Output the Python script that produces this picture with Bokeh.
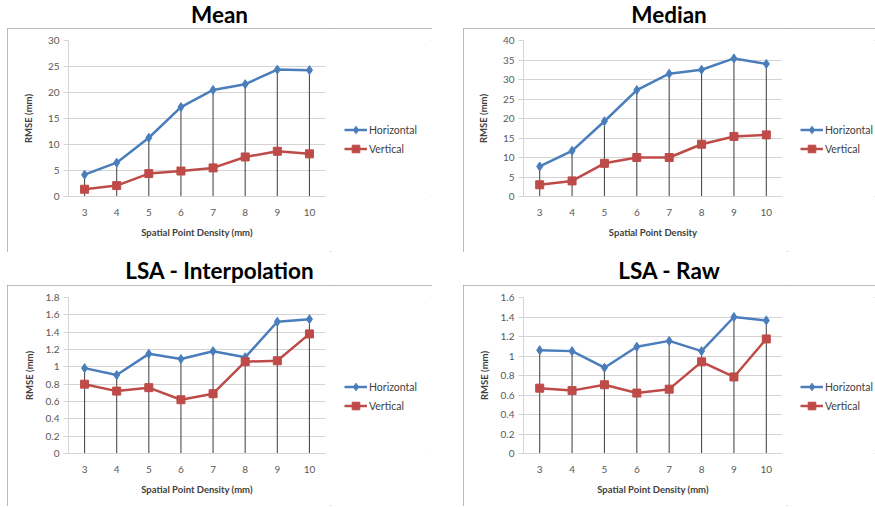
from bokeh.plotting import figure
from bokeh.models import (FactorRange, Range1d, FixedTicker, Legend, LegendItem,
                          Div, Spacer, CustomJSTickFormatter)
from bokeh.layouts import row, column
from bokeh.embed import file_html
from bokeh.resources import INLINE

categories = ["3", "4", "5", "6", "7", "8", "9", "10"]

mean_horizontal = [4.2, 6.5, 11.3, 17.2, 20.5, 21.6, 24.4, 24.3]
mean_vertical = [1.4, 2.1, 4.4, 4.9, 5.5, 7.6, 8.7, 8.2]

median_horizontal = [7.7, 11.7, 19.3, 27.3, 31.5, 32.5, 35.4, 34.0]
median_vertical = [3.0, 4.0, 8.5, 10.0, 10.0, 13.4, 15.4, 15.8]

interp_horizontal = [0.985, 0.905, 1.15, 1.09, 1.18, 1.11, 1.52, 1.55]
interp_vertical = [0.80, 0.72, 0.76, 0.62, 0.69, 1.06, 1.07, 1.38]

raw_horizontal = [1.06, 1.05, 0.88, 1.095, 1.155, 1.05, 1.40, 1.365]
raw_vertical = [0.67, 0.645, 0.705, 0.62, 0.66, 0.94, 0.785, 1.175]

mean_ticks = [0, 5, 10, 15, 20, 25, 30]
median_ticks = [0, 5, 10, 15, 20, 25, 30, 35, 40]
interp_ticks = [0, 0.2, 0.4, 0.6, 0.8, 1.0, 1.2, 1.4, 1.6, 1.8]
raw_ticks = [0, 0.2, 0.4, 0.6, 0.8, 1.0, 1.2, 1.4, 1.6]

titles = ["Mean", "Median", "LSA - Interpolation", "LSA - Raw"]
x_titles = ["Spatial Point Density (mm)", "Spatial Point Density",
            "Spatial Point Density (mm)", "Spatial Point Density (mm)"]
y_title = "RMSE (mm)"
series_names = ["Horizontal", "Vertical"]

BLUE = "#4a7ebb"
RED = "#be4b48"
GRID = "#d4d4d4"
TEXT = "#404040"
FONT = "Lato"
BOX = {"outline": "1.5px solid #a6a6a6", "outline-offset": "-1.5px"}


def make_main(horiz, vert, ticks, xtitle, width, height, mb_left, mb_bottom,
              ylab_standoff):
    p = figure(width=width, height=height, output_backend="svg",
               toolbar_location=None, x_range=FactorRange(*categories, range_padding=0),
               y_range=Range1d(ticks[0], ticks[-1]),
               min_border_left=mb_left, min_border_right=5,
               min_border_top=12, min_border_bottom=mb_bottom,
               outline_line_color=None, background_fill_color="white",
               border_fill_color="white")
    tops = [max(a, b) for a, b in zip(horiz, vert)]
    p.segment(x0=categories, y0=[0] * len(categories), x1=categories, y1=tops,
              line_color="#4d4d4d", line_width=1.1)
    p.line(categories, horiz, line_color=BLUE, line_width=2.5)
    p.scatter(categories, horiz, marker="diamond", size=9, fill_color=BLUE,
              line_color=BLUE)
    p.line(categories, vert, line_color=RED, line_width=2.5)
    p.scatter(categories, vert, marker="square", size=8, fill_color=RED,
              line_color=RED)

    p.xgrid.grid_line_color = None
    p.ygrid.grid_line_color = GRID
    p.yaxis.ticker = FixedTicker(ticks=ticks)
    p.yaxis.formatter = CustomJSTickFormatter(
        code="return String(Math.round(tick*10)/10);")
    for ax in (p.xaxis[0], p.yaxis[0]):
        ax.axis_line_color = GRID
        ax.major_label_text_font = FONT
        ax.major_label_text_font_size = "10px"
        ax.major_label_text_color = "#595959"
        ax.axis_label_text_font = FONT
        ax.axis_label_text_font_size = "9.5px"
        ax.axis_label_text_font_style = "bold"
        ax.axis_label_text_color = TEXT
        ax.minor_tick_line_color = None
    p.yaxis.major_tick_out = 5
    p.yaxis.major_tick_in = 0
    p.yaxis.major_tick_line_color = GRID
    p.yaxis.major_label_standoff = 4
    p.yaxis.axis_label = y_title
    p.yaxis.axis_label_standoff = ylab_standoff
    p.xaxis.major_tick_line_color = None
    p.xaxis.major_label_standoff = 6
    p.xaxis.axis_label = xtitle
    p.xaxis.axis_label_standoff = 8
    return p


def make_legend(width, height, leg_x, leg_y):
    # legend keys only: their glyph data sit outside the visible range
    q = figure(width=width, height=height, output_backend="svg",
               toolbar_location=None, x_axis_type=None, y_axis_type=None,
               x_range=Range1d(0, 1), y_range=Range1d(0, 1),
               min_border=0, outline_line_color=None,
               background_fill_color="white", border_fill_color="white")
    q.xgrid.visible = False
    q.ygrid.visible = False
    off_x = [-10, -9]
    off_y = [-10, -10]
    lh = q.line(off_x, off_y, line_color=BLUE, line_width=2.5)
    mh = q.scatter(off_x[:1], off_y[:1], marker="diamond", size=8, fill_color=BLUE,
                   line_color=BLUE)
    lv = q.line(off_x, off_y, line_color=RED, line_width=2.5)
    mv = q.scatter(off_x[:1], off_y[:1], marker="square", size=8, fill_color=RED,
                   line_color=RED)
    legend = Legend(items=[LegendItem(label=series_names[0], renderers=[lh, mh]),
                           LegendItem(label=series_names[1], renderers=[lv, mv])],
                    location=(leg_x, leg_y), background_fill_alpha=0,
                    border_line_color=None, padding=0, margin=0, spacing=0,
                    glyph_width=23, glyph_height=19, label_height=19,
                    label_standoff=2, label_text_font=FONT,
                    label_text_font_size="10.5px", label_text_color=TEXT)
    q.add_layout(legend)
    return q


def make_title(text, width, height, pad_top, pad_left):
    html = ('<div style="display:block;text-align:center;font-family:Lato;'
            'font-weight:bold;font-size:22.5px;line-height:14px;color:#000;'
            f'white-space:nowrap;width:{width - pad_left}px;'
            f'padding-top:{pad_top}px;padding-left:{pad_left}px">{text}</div>')
    return Div(text=html, width=width, height=height, margin=0,
               styles={"overflow": "visible"})


LW, RW = 425, 412
TOP_H, BOT_H = 224, 221
LMAIN, RMAIN = 323, 324

f1 = make_main(mean_horizontal, mean_vertical, mean_ticks, x_titles[0], LMAIN, TOP_H,
               61, 56, 11)
f2 = make_main(median_horizontal, median_vertical, median_ticks, x_titles[1], RMAIN,
               TOP_H, 60, 56, 11)
f3 = make_main(interp_horizontal, interp_vertical, interp_ticks, x_titles[2], LMAIN,
               BOT_H, 61, 53, 8)
f4 = make_main(raw_horizontal, raw_vertical, raw_ticks, x_titles[3], RMAIN, BOT_H,
               60, 53, 8)

g1 = make_legend(LW - LMAIN, TOP_H, 14, 38)
g2 = make_legend(RW - RMAIN, TOP_H, 13, 38)
g3 = make_legend(LW - LMAIN, BOT_H, 14, 38)
g4 = make_legend(RW - RMAIN, BOT_H, 13, 38)

t1 = make_title(titles[0], LW, 28, 8, 0)
t2 = make_title(titles[1], RW, 28, 8, 16)
t3 = make_title(titles[2], LW, 33, 12, 0)
t4 = make_title(titles[3], RW, 33, 12, 16)


def panel(title, main, leg):
    box = row(main, leg, spacing=0, styles=BOX)
    return column(title, box, spacing=0)


layout = column(
    row(Spacer(width=7), panel(t1, f1, g1), Spacer(width=31), panel(t2, f2, g2),
        spacing=0),
    row(Spacer(width=7), panel(t3, f3, g3), Spacer(width=31), panel(t4, f4, g4),
        spacing=0),
    spacing=0,
)

open("out.html", "w").write(file_html(layout, INLINE))
